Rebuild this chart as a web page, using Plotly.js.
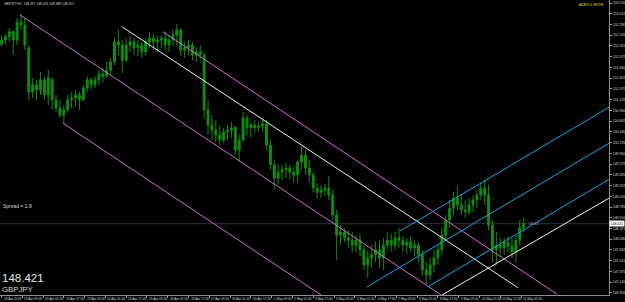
<!DOCTYPE html>
<html><head><meta charset="utf-8">
<script src="https://cdn.plot.ly/plotly-3.0.1.min.js"></script>
<style>html,body{margin:0;padding:0;background:#000;}#chart{width:625px;height:302px;}</style>
</head><body><div id="chart"></div>
<script>
// ---- data (GBPJPY H1, each candle = 3 hourly bars) ----
const symbol = "GBPJPY";
const lastPrice = 148.421;
const headerText = "GBPJPY,H1  148.397 148.431 148.389 148.421";
const spreadText = "Spread = 2.8";
const cornerText = "ACEP+1 HOTE";
const barsPerCandle = 3;

const open = [152.35,152.44,152.51,152.62,152.44,152.83,152.77,152.27,151.30,151.46,
151.35,151.57,151.24,151.57,151.13,150.95,150.80,150.91,151.13,151.17,
151.24,151.13,151.39,151.57,151.46,151.57,151.70,151.65,151.78,151.96,
152.40,152.33,152.00,152.33,152.40,152.27,152.33,152.18,152.40,152.48,
152.40,152.44,152.48,152.33,152.44,152.55,152.66,152.22,152.27,152.33,
152.11,152.18,152.11,150.91,150.58,150.47,150.36,150.25,150.43,150.47,
150.52,150.03,150.25,150.73,150.52,150.58,150.52,150.56,150.60,150.14,
149.71,149.42,149.55,149.60,149.64,149.55,149.49,149.77,149.92,149.64,
149.49,149.20,149.11,149.16,149.20,149.05,148.61,148.17,148.24,148.11,
148.06,147.95,148.06,147.85,147.52,147.67,147.74,147.85,147.67,147.95,
148.06,147.95,148.11,148.06,147.95,148.02,147.89,147.95,147.74,147.41,
147.30,147.52,147.67,147.85,148.17,148.50,148.76,148.98,148.83,148.72,
148.68,148.83,148.94,149.05,149.20,149.05,148.39,147.85,147.95,147.89,
148.02,147.93,147.80,148.06,148.33];
const high = [152.53,152.57,152.70,152.66,152.92,153.01,152.92,152.33,151.61,151.57,
151.74,151.65,151.78,151.61,151.24,151.13,151.02,151.24,151.30,151.35,
151.30,151.46,151.65,151.61,151.65,151.78,151.83,151.96,152.05,152.48,
152.66,152.44,152.48,152.53,152.48,152.44,152.40,152.48,152.62,152.55,
152.53,152.55,152.62,152.55,152.66,152.79,152.70,152.40,152.44,152.40,
152.27,152.33,152.18,151.13,150.80,150.69,150.58,150.52,150.58,150.65,
150.56,150.36,150.87,150.80,150.65,150.69,150.65,150.69,150.69,150.25,
149.81,149.71,149.71,149.75,149.71,149.66,149.81,150.12,150.03,149.81,
149.55,149.31,149.27,149.29,149.47,149.16,148.72,148.39,148.33,148.28,
148.24,148.17,148.20,147.95,147.85,147.95,148.02,148.06,148.11,148.24,
148.20,148.24,148.33,148.15,148.11,148.15,148.06,148.02,147.85,147.58,
147.67,147.85,147.95,148.33,148.61,148.94,149.11,149.25,149.05,148.94,
148.98,149.03,149.16,149.31,149.38,149.27,148.50,148.24,148.11,148.11,
148.15,148.11,148.17,148.50,148.55];
const low = [152.31,152.35,152.40,152.11,152.33,152.66,152.22,151.13,151.17,151.13,
151.24,151.13,151.02,150.91,150.87,150.73,150.60,150.87,150.95,151.00,
150.91,151.10,151.30,151.35,151.39,151.46,151.52,151.61,151.68,151.89,
152.11,151.72,151.96,152.18,152.11,152.09,152.05,152.11,152.27,152.22,
152.18,152.27,152.22,152.18,152.31,152.33,152.09,152.05,152.11,152.00,
151.96,152.00,150.73,150.36,150.25,150.21,150.14,150.19,150.25,150.30,
149.92,149.77,150.21,150.36,150.30,150.41,150.43,150.43,150.03,149.60,
149.16,149.27,149.38,149.42,149.38,149.33,149.33,149.60,149.49,149.33,
149.11,148.98,148.98,149.03,148.94,148.46,147.63,147.95,148.02,147.89,
147.80,147.80,147.71,147.41,147.23,147.45,147.58,147.45,147.41,147.85,
147.80,147.85,147.89,147.80,147.76,147.80,147.71,147.58,147.30,147.10,
147.19,147.36,147.52,147.74,148.06,148.33,148.61,148.72,148.61,148.55,
148.61,148.68,148.76,148.94,148.83,148.28,147.58,147.52,147.71,147.74,
147.80,147.67,147.56,147.95,148.24];
const close = [152.44,152.51,152.62,152.44,152.83,152.77,152.33,151.30,151.46,151.35,
151.57,151.24,151.61,151.13,150.95,150.80,150.91,151.13,151.17,151.24,
151.13,151.39,151.57,151.46,151.57,151.70,151.65,151.78,151.96,152.40,
152.33,152.00,152.33,152.40,152.27,152.33,152.18,152.40,152.48,152.40,
152.44,152.48,152.33,152.44,152.55,152.66,152.22,152.27,152.33,152.11,
152.18,152.11,150.91,150.58,150.47,150.36,150.25,150.43,150.47,150.52,
150.03,150.25,150.73,150.52,150.58,150.52,150.56,150.60,150.14,149.71,
149.42,149.55,149.60,149.64,149.55,149.49,149.77,149.92,149.64,149.49,
149.20,149.11,149.16,149.20,149.05,148.61,148.17,148.24,148.11,148.06,
147.95,148.06,147.85,147.52,147.67,147.74,147.85,147.67,147.95,148.06,
147.95,148.11,148.06,147.95,148.02,147.89,147.95,147.74,147.41,147.30,
147.52,147.67,147.85,148.17,148.50,148.76,148.98,148.83,148.72,148.68,
148.83,148.94,149.05,149.20,149.05,148.39,147.85,147.95,147.89,148.02,
147.93,147.80,148.06,148.33,148.421];

// time axis labels (every 16 hourly bars)
const timeLabels = ["18 Apr 2018","19 Apr 09:00","20 Apr 01:00","20 Apr 17:00","23 Apr 09:00",
"24 Apr 01:00","24 Apr 17:00","25 Apr 09:00","26 Apr 01:00","26 Apr 17:00","27 Apr 09:00",
"30 Apr 01:00","30 Apr 17:00","1 May 09:00","2 May 01:00","2 May 17:00","3 May 09:00",
"4 May 01:00","4 May 17:00","7 May 09:00","8 May 01:00","8 May 17:00","9 May 09:00",
"10 May 01:00","10 May 17:00","11 May 09:00"];
const timeLabelBars = [0,16,32,48,64,80,96,112,128,144,160,176,192,208,224,240,256,272,288,304,320,336,352,368,384,400];

// price axis labels
const priceTicks = [146.905,147.140,147.375,147.610,147.845,148.080,148.315,148.550,148.785,149.020,
149.255,149.490,149.725,149.960,150.195,150.430,150.665,150.900,151.135,151.370,151.605,151.840,
152.075,152.310,152.545,152.780,153.015,153.250];

// trend lines: [bar index start, end], [price start, end]
const pinkLinesBars   = [[14.2, 339.0], [47.3, 246.0], [124.3, 427.6]];
const pinkLinesPrices = [[152.99, 146.85], [150.62, 146.86], [152.62, 146.88]];
const whiteLinesBars   = [[92.8, 397.6], [339.1, 467.7]];
const whiteLinesPrices = [[152.73, 147.02], [146.86, 148.98]];
const blueLinesBars   = [[306.8, 467.7], [281.4, 467.7], [328.3, 467.7]];
const blueLinesPrices = [[148.26, 150.97], [147.04, 150.18], [147.04, 149.39]];

// ---- drawing ----
const W = 625, H = 302;
const M = {l:0, r:16, t:0, b:7};
const PW = W - M.l - M.r, PH = H - M.t - M.b;
const px = v => v / PW;
const py = v => 1 - v / PH;

const xs = open.map((_, i) => i * barsPerCandle);
const green = '#128c12';
const traces = [{
  type:'candlestick', x: xs, open, high, low, close,
  increasing:{line:{color:green, width:1}, fillcolor:green},
  decreasing:{line:{color:green, width:1}, fillcolor:green},
  whiskerwidth:0, hoverinfo:'skip'
}];
function addLines(bars, prices, color){
  bars.forEach((b, k) => traces.push({type:'scatter', mode:'lines', x:b, y:prices[k],
    line:{color, width:1}, hoverinfo:'skip'}));
}
addLines(pinkLinesBars, pinkLinesPrices, '#d070d0');
addLines(whiteLinesBars, whiteLinesPrices, '#f0f0f0');
addLines(blueLinesBars, blueLinesPrices, '#14a6e6');

const fam = 'Liberation Sans, Arial, sans-serif';
const timeAnnotations = timeLabels.map((t, k) => ({
  xref:'x', yref:'paper', x:timeLabelBars[k], y:py(298.8), xanchor:'left', yanchor:'middle',
  xshift:1, showarrow:false, text:t, borderpad:0,
  font:{size:3.2, color:'#d8d8d8', family:fam}
}));

const layout = {
  width:W, height:H, margin:{l:M.l, r:M.r, t:M.t, b:M.b, pad:0},
  paper_bgcolor:'#000000', plot_bgcolor:'#000000', showlegend:false,
  font:{family:fam, color:'#d8d8d8'},
  xaxis:{range:[-1.155, 467.7], tickmode:'array', tickvals:timeLabelBars, showticklabels:false,
    ticks:'outside', ticklen:2, tickcolor:'#a0a0a0',
    showline:true, linecolor:'#909090', linewidth:1, showgrid:false, zeroline:false,
    rangeslider:{visible:false}, fixedrange:true},
  yaxis:{side:'right', range:[146.86, 153.316], tickmode:'array', tickvals:priceTicks,
    ticktext:priceTicks.map(v => v.toFixed(3)),
    tickfont:{size:3.5, color:'#d8d8d8', family:fam}, ticks:'outside', ticklen:2, tickcolor:'#a0a0a0',
    showline:true, mirror:true, linecolor:'#909090', linewidth:1, showgrid:false, zeroline:false, fixedrange:true},
  shapes:[{type:'line', xref:'paper', x0:0, x1:1, yref:'y', y0:lastPrice, y1:lastPrice,
    line:{color:'#30303c', width:1}, layer:'below'}],
  annotations:[
    {xref:'paper', yref:'paper', x:px(2), y:py(4), xanchor:'left', yanchor:'middle', showarrow:false,
      text:headerText, font:{size:3.3, color:'#d8d8d8', family:fam}},
    {xref:'paper', yref:'paper', x:px(606), y:py(5), xanchor:'right', yanchor:'middle', showarrow:false,
      text:cornerText, font:{size:3.5, color:'#e8e800', family:fam}},
    {xref:'paper', yref:'paper', x:px(1), y:py(206), xanchor:'left', yanchor:'middle', showarrow:false,
      text:spreadText, font:{size:5, color:'#d8d8d8', family:fam}},
    {xref:'paper', yref:'paper', x:px(0), y:py(277.5), xanchor:'left', yanchor:'middle', showarrow:false,
      text:lastPrice.toFixed(3), font:{size:11.5, color:'#e8e8e8', family:fam}},
    {xref:'paper', yref:'paper', x:px(0), y:py(289), xanchor:'left', yanchor:'middle', showarrow:false,
      text:symbol, font:{size:7.8, color:'#d8d8d8', family:fam}},
    {xref:'x', yref:'y', x:xs[xs.length-1] + 2, y:lastPrice, xanchor:'left', yanchor:'middle', showarrow:false,
      text:lastPrice.toFixed(3), font:{size:3.2, color:'#9a9a9a', family:fam}},
    {xref:'paper', yref:'y', x:1, y:lastPrice, xanchor:'left', yanchor:'middle', showarrow:false,
      text:lastPrice.toFixed(3), bgcolor:'#ffffff', borderpad:0.5,
      font:{size:3.5, color:'#000000', family:fam}}
  ].concat(timeAnnotations)
};
Plotly.newPlot('chart', traces, layout, {staticPlot:true, displayModeBar:false});
</script>
</body></html>
